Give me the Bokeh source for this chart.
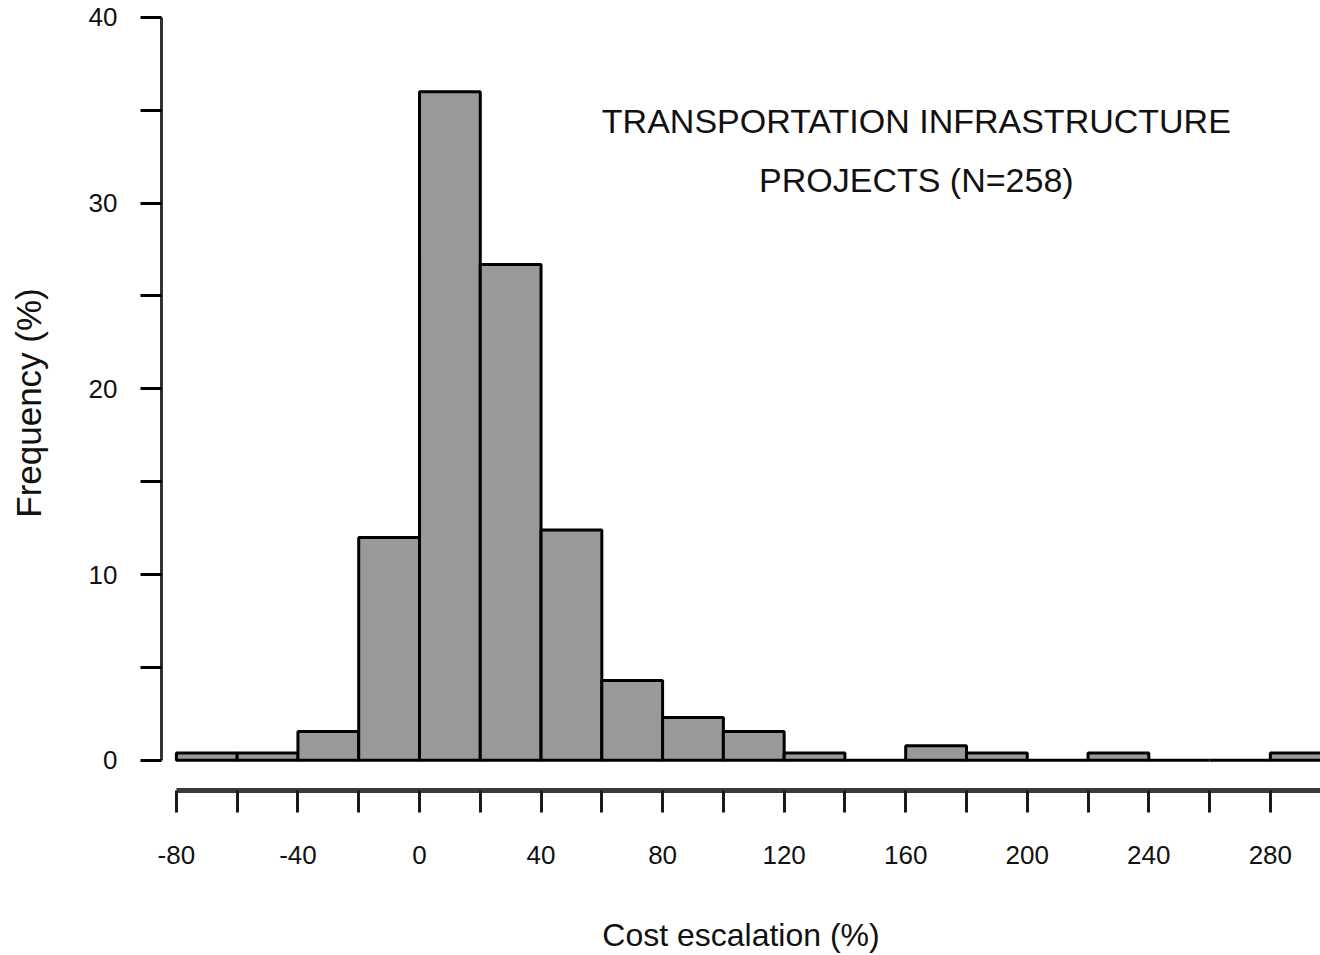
from bokeh.plotting import figure
from bokeh.models import FixedTicker, Label, Range1d
from bokeh.embed import file_html
from bokeh.resources import INLINE

# ---- data ----
bin_left = [-80, -60, -40, -20, 0, 20, 40, 60, 80, 100, 120, 140, 160, 180, 200, 220, 240, 260, 280]
bin_right = [-60, -40, -20, 0, 20, 40, 60, 80, 100, 120, 140, 160, 180, 200, 220, 240, 260, 280, 300]
frequency = [0.39, 0.39, 1.55, 12.0, 36.0, 26.7, 12.4, 4.3, 2.3, 1.55, 0.39, 0.0, 0.78, 0.39, 0.0, 0.39, 0.0, 0.0, 0.39]

x_major_ticks = [-80, -40, 0, 40, 80, 120, 160, 200, 240, 280]
x_minor_ticks = [-60, -20, 20, 60, 100, 140, 180, 220, 260, 300]
y_major_ticks = [0, 10, 20, 30, 40]
y_minor_ticks = [5, 15, 25, 35]

x_title = "Cost escalation (%)"
y_title = "Frequency (%)"
note_lines = ["TRANSPORTATION INFRASTRUCTURE", "PROJECTS (N=258)"]

FONT = "Liberation Sans"
TXT = "#111111"

p = figure(width=1320, height=955, output_backend="svg", toolbar_location=None,
           x_range=Range1d(-84.9, 296.5), y_range=Range1d(-1.627, 40.10),
           min_border_left=161, min_border_right=0, min_border_top=15, min_border_bottom=163)

p.outline_line_color = None
p.xgrid.visible = False
p.ygrid.visible = False
p.background_fill_color = "white"
p.border_fill_color = "white"

p.quad(left=bin_left, right=bin_right, bottom=0, top=frequency,
       fill_color="#999999", line_color="#000000", line_width=3)

# x axis
xa = p.xaxis[0]
xa.ticker = FixedTicker(ticks=x_major_ticks, minor_ticks=x_minor_ticks)
xa.major_label_overrides = {t: str(t) for t in x_major_ticks}
xa.bounds = (-80, 300)
xa.axis_line_width = 5
xa.axis_line_color = "#3a3a3a"
xa.major_tick_line_width = 3
xa.minor_tick_line_width = 3
xa.major_tick_line_color = "#1a1a1a"
xa.minor_tick_line_color = "#1a1a1a"
xa.major_tick_in = 0
xa.minor_tick_in = 0
xa.major_tick_out = 22
xa.minor_tick_out = 22
xa.major_label_standoff = 33
xa.major_label_text_font = FONT
xa.major_label_text_font_size = "26px"
xa.major_label_text_color = TXT
xa.axis_label = x_title
xa.axis_label_text_font = FONT
xa.axis_label_text_font_size = "32px"
xa.axis_label_text_font_style = "normal"
xa.axis_label_text_color = TXT
xa.axis_label_standoff = 50

# y axis
ya = p.yaxis[0]
ya.ticker = FixedTicker(ticks=y_major_ticks, minor_ticks=y_minor_ticks)
ya.major_label_overrides = {t: str(t) for t in y_major_ticks}
ya.bounds = (0, 40)
ya.axis_line_width = 3
ya.axis_line_color = "#333333"
ya.major_tick_line_width = 3
ya.minor_tick_line_width = 3
ya.major_tick_line_color = "#000000"
ya.minor_tick_line_color = "#000000"
ya.major_tick_in = 0
ya.minor_tick_in = 0
ya.major_tick_out = 21
ya.minor_tick_out = 21
ya.major_label_standoff = 23
ya.major_label_orientation = "horizontal"
ya.major_label_text_font = FONT
ya.major_label_text_font_size = "26px"
ya.major_label_text_color = TXT
ya.axis_label = y_title
ya.axis_label_text_font = FONT
ya.axis_label_text_font_size = "35px"
ya.axis_label_text_font_style = "normal"
ya.axis_label_text_color = TXT
ya.axis_label_standoff = 38

# annotation
for i, line in enumerate(note_lines):
    p.add_layout(Label(x=163.5, y=34.4 - 3.17 * i, text=line, text_align="center",
                       text_baseline="middle", text_font=FONT, text_font_size="34px",
                       text_color=TXT))

open("out.html", "w").write(file_html(p, INLINE))
